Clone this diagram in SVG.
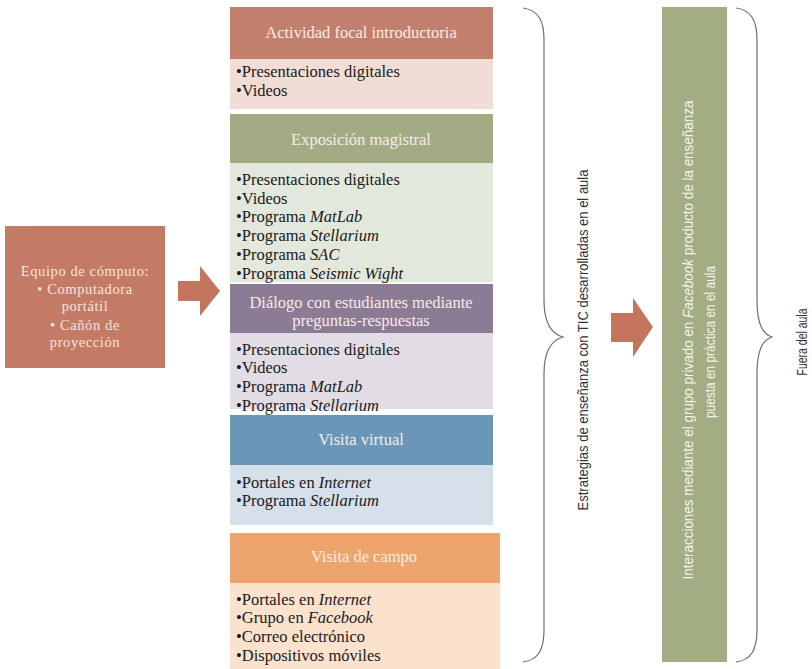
<svg xmlns="http://www.w3.org/2000/svg" width="812" height="669" viewBox="0 0 812 669">
<style>
.t{font-family:"Liberation Serif","DejaVu Serif",serif;font-size:16.5px;fill:#f6ece6;text-anchor:middle}
.e{font-family:"Liberation Serif","DejaVu Serif",serif;font-size:14.5px;letter-spacing:0.6px;fill:#f6e4dc;text-anchor:middle}
.c{font-family:"Liberation Serif","DejaVu Serif",serif;font-size:16.5px;fill:#1a1a1a}
.i{font-style:italic}
.v{font-family:"Liberation Sans","DejaVu Sans",sans-serif;font-size:14px;text-anchor:middle}
.br{fill:none;stroke:#6e6e6e;stroke-width:1.2}
.ar{fill:#c3755e}
</style>
<rect width="812" height="669" fill="#ffffff"/>
<g id="equipo">
<rect x="5" y="226" width="160" height="142" fill="#c47b66"/>
<text class="e" x="85" y="276">Equipo de cómputo:</text>
<text class="e" x="85" y="294">• Computadora</text>
<text class="e" x="85" y="311">portátil</text>
<text class="e" x="85" y="330">• Cañón de</text>
<text class="e" x="85" y="347">proyección</text>
</g>
<g id="connectors">
<path class="ar" d="M178,281 H200 V266 L220,291 L200,316 V301 H178 Z"/>
<path class="ar" d="M611,313 H633 V298 L653,327 L633,357 V342 H611 Z"/>
</g>
<g id="actividad">
<rect x="230" y="7" width="263" height="52" fill="#c27f6d"/>
<rect x="230" y="59" width="263" height="50" fill="#f1dcd6"/>
<text class="t" x="361" y="38">Actividad focal introductoria</text>
<text class="c" x="236" y="77">•Presentaciones digitales</text>
<text class="c" x="236" y="96">•Videos</text>
</g>
<g id="exposicion">
<rect x="230" y="114" width="263" height="49" fill="#a3ab85"/>
<rect x="230" y="163" width="263" height="119" fill="#e3e8dc"/>
<text class="t" x="361" y="145">Exposición magistral</text>
<text class="c" x="236" y="185">•Presentaciones digitales</text>
<text class="c" x="236" y="204">•Videos</text>
<text class="c" x="236" y="222">•Programa <tspan class="i">MatLab</tspan></text>
<text class="c" x="236" y="241">•Programa <tspan class="i">Stellarium</tspan></text>
<text class="c" x="236" y="260">•Programa <tspan class="i">SAC</tspan></text>
<text class="c" x="236" y="279">•Programa <tspan class="i">Seismic Wight</tspan></text>
</g>
<g id="dialogo">
<rect x="230" y="284" width="263" height="49" fill="#8c7b94"/>
<rect x="230" y="333" width="263" height="76" fill="#e2dde5"/>
<text class="t" x="361" y="308">Diálogo con estudiantes mediante</text>
<text class="t" x="361" y="326">preguntas-respuestas</text>
<text class="c" x="236" y="355">•Presentaciones digitales</text>
<text class="c" x="236" y="373">•Videos</text>
<text class="c" x="236" y="392">•Programa <tspan class="i">MatLab</tspan></text>
<text class="c" x="236" y="411">•Programa <tspan class="i">Stellarium</tspan></text>
</g>
<g id="virtual">
<rect x="230" y="415" width="263" height="50" fill="#6a96b8"/>
<rect x="230" y="465" width="263" height="60" fill="#d6e0ea"/>
<text class="t" x="361" y="445">Visita virtual</text>
<text class="c" x="236" y="488">•Portales en <tspan class="i">Internet</tspan></text>
<text class="c" x="236" y="506">•Programa <tspan class="i">Stellarium</tspan></text>
</g>
<g id="campo">
<rect x="230" y="533" width="270" height="50" fill="#eda56e"/>
<rect x="230" y="583" width="270" height="86" fill="#fbe2cd"/>
<text class="t" x="364" y="562">Visita de campo</text>
<text class="c" x="236" y="605">•Portales en <tspan class="i">Internet</tspan></text>
<text class="c" x="236" y="623">•Grupo en <tspan class="i">Facebook</tspan></text>
<text class="c" x="236" y="642">•Correo electrónico</text>
<text class="c" x="236" y="661">•Dispositivos móviles</text>
</g>
<g id="brace-aula">
<path class="br" d="M523,8 C538,10 544,20 544,40 V300 C544,325 552,334 563,337 C552,340 544,349 544,374 V630 C544,650 538,660 523,662"/>
<text class="v" fill="#333" transform="translate(588,340) rotate(-90) scale(0.93,1)">Estrategias de enseñanza con TIC desarrolladas en el aula</text>
</g>
<g id="facebook">
<rect x="662" y="7" width="65" height="655" fill="#a3ad84"/>
<text class="v" fill="#f4f4ec" transform="translate(693,340) rotate(-90) scale(0.96,1)">Interacciones mediante el grupo privado en <tspan font-style="italic">Facebook</tspan> producto de la enseñanza</text>
<text class="v" fill="#f4f4ec" transform="translate(715,342) rotate(-90) scale(0.85,1)">puesta en práctica en el aula</text>
</g>
<g id="brace-fuera">
<path class="br" d="M736,8 C751,10 757,20 757,40 V300 C757,325 763,334 772,337 C763,340 757,349 757,374 V630 C757,650 751,660 736,662"/>
<text class="v" fill="#333" font-size="15" transform="translate(807,342) rotate(-90) scale(0.75,1)">Fuera del aula</text>
</g>
</svg>
